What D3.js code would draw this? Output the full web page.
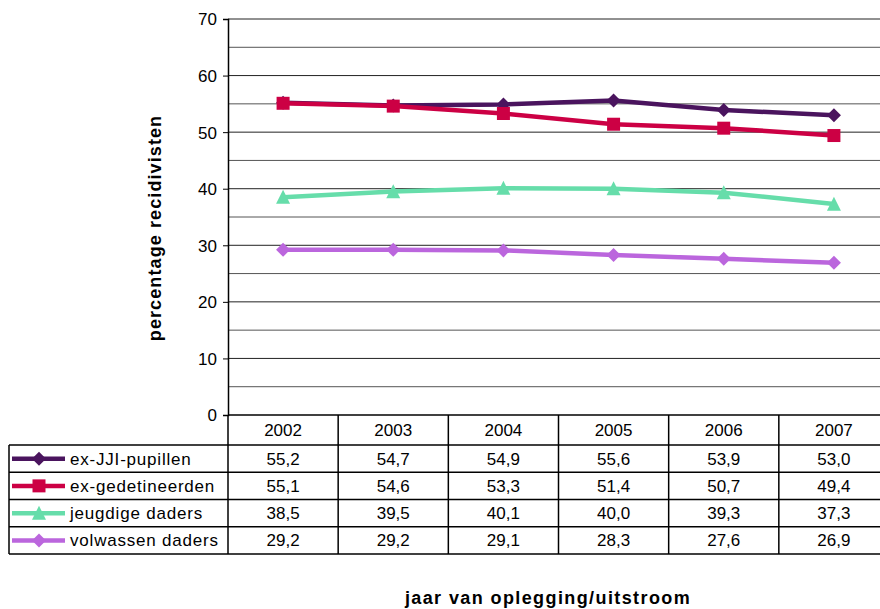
<!DOCTYPE html>
<html>
<head>
<meta charset="utf-8">
<script src="https://cdn.jsdelivr.net/npm/d3@7"></script>
<style>
  body { margin: 0; background: #fff; }
  svg text { font-family: "Liberation Sans", Arial, sans-serif; fill: #000; }
</style>
</head>
<body>
<div id="chart"></div>
<script>
// data
const years = ["2002", "2003", "2004", "2005", "2006", "2007"];
const seriesNames = ["ex-JJI-pupillen", "ex-gedetineerden", "jeugdige daders", "volwassen daders"];
const exJJI = [55.2, 54.7, 54.9, 55.6, 53.9, 53.0];
const exGedetineerden = [55.1, 54.6, 53.3, 51.4, 50.7, 49.4];
const jeugdigeDaders = [38.5, 39.5, 40.1, 40.0, 39.3, 37.3];
const volwassenDaders = [29.2, 29.2, 29.1, 28.3, 27.6, 26.9];
const yTicks = [0, 10, 20, 30, 40, 50, 60, 70];

const colors = ["#4a145e", "#cc0044", "#66ddaa", "#bb66dd"];

// marker shapes (size = half width in px)
const diamond = {
  draw(ctx, r) {
    ctx.moveTo(0, -r); ctx.lineTo(r, 0); ctx.lineTo(0, r); ctx.lineTo(-r, 0); ctx.closePath();
  }
};
const square = {
  draw(ctx, r) { ctx.rect(-r, -r, 2 * r, 2 * r); }
};
const triangle = {
  draw(ctx, r) {
    ctx.moveTo(0, -r * 1.05); ctx.lineTo(r, r * 0.95); ctx.lineTo(-r, r * 0.95); ctx.closePath();
  }
};
const symbols = [diamond, square, triangle, diamond];
const symSizes = [7, 6.5, 7, 7];

const series = seriesNames.map((name, i) => ({
  name,
  values: [exJJI, exGedetineerden, jeugdigeDaders, volwassenDaders][i],
  color: colors[i],
  symbol: symbols[i],
  size: symSizes[i]
}));

const width = 880, height = 609;
const plot = { left: 228, right: 889, top: 19, bottom: 415 };
const table = { left: 9, headerBottom: 445, bottom: 554 };

const svg = d3.select("#chart").append("svg")
  .attr("width", width)
  .attr("height", height);

const x = d3.scaleBand().domain(years).range([plot.left, plot.right]);
const y = d3.scaleLinear().domain([0, 70]).range([plot.bottom, plot.top]);
const rowY = d3.scaleBand().domain(seriesNames).range([table.headerBottom, table.bottom]);

// gridlines every 5
svg.append("g")
  .attr("class", "grid")
  .selectAll("line")
  .data(d3.range(5, 75, 5))
  .join("line")
  .attr("x1", plot.left).attr("x2", plot.right)
  .attr("y1", d => y(d)).attr("y2", d => y(d))
  .attr("stroke", d => d % 10 === 0 ? "#222" : "#555")
  .attr("stroke-width", 1);

// y axis
const yAxis = svg.append("g")
  .attr("transform", `translate(${plot.left},0)`)
  .call(d3.axisLeft(y).tickValues(yTicks).tickSize(5).tickPadding(6));
yAxis.select(".domain").attr("stroke", "#000").attr("stroke-width", 1.5);
yAxis.selectAll(".tick line").attr("stroke", "#000");
yAxis.selectAll("text").style("font-size", "17px").attr("dy", "0.35em");

svg.append("text")
  .attr("transform", `translate(161,228) rotate(-90)`)
  .attr("text-anchor", "middle")
  .style("font-size", "18px")
  .style("font-weight", "bold")
  .style("letter-spacing", "1.1px")
  .text("percentage recidivisten");

// lines and markers
const line = d3.line()
  .x((d, i) => x(years[i]) + x.bandwidth() / 2)
  .y(d => y(d));

series.forEach(s => {
  svg.append("path")
    .datum(s.values)
    .attr("d", line)
    .attr("fill", "none")
    .attr("stroke", s.color)
    .attr("stroke-width", 4.5);
  svg.append("g").selectAll("path")
    .data(s.values)
    .join("path")
    .attr("transform", (d, i) => `translate(${x(years[i]) + x.bandwidth() / 2},${y(d)})`)
    .attr("d", d3.symbol().type(s.symbol).size(s.size))
    .attr("fill", s.color);
});

// data table
const tg = svg.append("g").attr("class", "table");
const lineStyle = sel => sel.attr("stroke", "#000").attr("stroke-width", 1.5);

// horizontal lines
tg.append("line").call(lineStyle)
  .attr("x1", plot.left).attr("x2", plot.right)
  .attr("y1", plot.bottom).attr("y2", plot.bottom);
tg.selectAll(".hrow")
  .data(seriesNames.map(n => rowY(n)).concat([table.bottom]))
  .join("line").call(lineStyle)
  .attr("x1", table.left).attr("x2", plot.right)
  .attr("y1", d => d).attr("y2", d => d);

// vertical lines
tg.selectAll(".vcol")
  .data(years.map(yr => x(yr)).concat([plot.right - 1]))
  .join("line").call(lineStyle)
  .attr("x1", d => d).attr("x2", d => d)
  .attr("y1", plot.bottom).attr("y2", table.bottom);
tg.append("line").call(lineStyle)
  .attr("x1", table.left).attr("x2", table.left)
  .attr("y1", table.headerBottom).attr("y2", table.bottom);

// header years
tg.selectAll(".yr")
  .data(years)
  .join("text")
  .attr("x", d => x(d) + x.bandwidth() / 2)
  .attr("y", (plot.bottom + table.headerBottom) / 2 + 6)
  .attr("text-anchor", "middle")
  .style("font-size", "17px")
  .text(d => d);

// legend cells and values
series.forEach(s => {
  const cy = rowY(s.name) + rowY.bandwidth() / 2;
  tg.append("line")
    .attr("x1", 12).attr("x2", 65)
    .attr("y1", cy).attr("y2", cy)
    .attr("stroke", s.color).attr("stroke-width", 4.5);
  tg.append("path")
    .attr("transform", `translate(39,${cy})`)
    .attr("d", d3.symbol().type(s.symbol).size(s.size))
    .attr("fill", s.color);
  tg.append("text")
    .attr("x", 70).attr("y", cy + 6)
    .style("font-size", "17px")
    .style("letter-spacing", "0.8px")
    .text(s.name);
  tg.selectAll(null)
    .data(s.values)
    .join("text")
    .attr("x", (d, i) => x(years[i]) + x.bandwidth() / 2)
    .attr("y", cy + 6)
    .attr("text-anchor", "middle")
    .style("font-size", "17px")
    .text(d => d.toFixed(1).replace(".", ","));
});

svg.append("text")
  .attr("x", 548).attr("y", 604)
  .attr("text-anchor", "middle")
  .style("font-size", "18px")
  .style("font-weight", "bold")
  .style("letter-spacing", "1.4px")
  .text("jaar van oplegging/uitstroom");
</script>
</body>
</html>
